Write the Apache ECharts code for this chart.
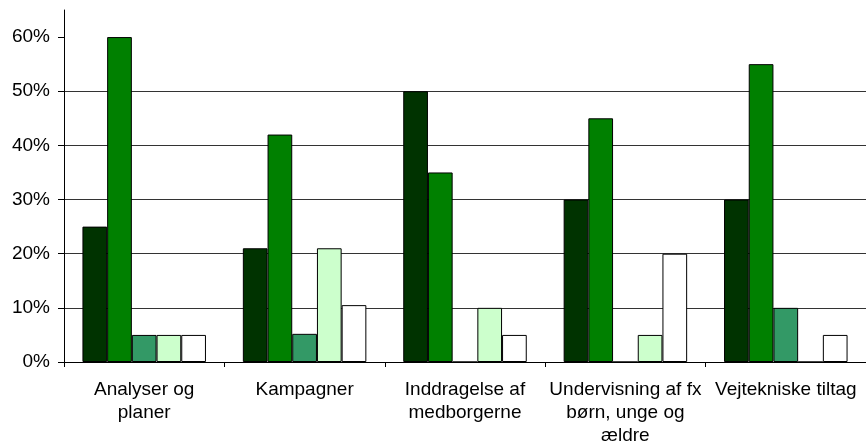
<!DOCTYPE html>
<html>
<head>
<meta charset="utf-8">
<script src="https://cdn.jsdelivr.net/npm/echarts@6/dist/echarts.min.js"></script>
<style>
html,body{margin:0;padding:0;background:#fff;}
#c{width:866px;height:447px;}
</style>
</head>
<body>
<div id="c"></div>
<script>
var categories = ["Analyser og\nplaner", "Kampagner", "Inddragelse af\nmedborgerne", "Undervisning af fx\nbørn, unge og\nældre", "Vejtekniske tiltag"];
var series1 = [25, 21, 50, 30, 30];
var series2 = [60, 42, 35, 45, 55];
var series3 = [5, 5.2, 0, 0, 10];
var series4 = [5, 21, 10, 5, 0];
var series5 = [5, 10.5, 5, 20, 5];
var yTicks = [0, 10, 20, 30, 40, 50, 60];
var colors = ["#003300", "#008000", "#339966", "#CCFFCC", "#FFFFFF"];

var chart = echarts.init(document.getElementById('c'));
var font = "'Liberation Sans', Arial, sans-serif";
function mk(name, data, color) {
  return {
    name: name, type: 'bar', data: data,
    barGap: '0%', barCategoryGap: '23%',
    itemStyle: { color: color, borderColor: '#000', borderWidth: 1 },
    animation: false
  };
}
chart.setOption({
  animation: false,
  grid: { left: 64, right: -3, top: 10, bottom: 84, containLabel: false },
  xAxis: {
    type: 'category', data: categories,
    axisLine: { lineStyle: { color: '#000', width: 1 } },
    axisTick: { show: true, length: 5, lineStyle: { color: '#000' } },
    axisLabel: { color: '#000', fontFamily: font, fontSize: 19, lineHeight: 23, margin: 16, interval: 0 },
    splitLine: { show: false }
  },
  yAxis: {
    type: 'value', min: 0, max: 65, interval: 10,
    axisLine: { show: true, lineStyle: { color: '#000', width: 1 } },
    axisTick: { show: true, length: 6, customValues: yTicks, lineStyle: { color: '#000' } },
    axisLabel: { color: '#000', fontFamily: font, fontSize: 19, margin: 14, customValues: yTicks,
      formatter: function (v) { return v + '%'; } },
    splitLine: { show: true, showMaxLine: false, showMinLine: false, lineStyle: { color: '#333', width: 1 } }
  },
  series: [
    mk('S1', series1, colors[0]),
    mk('S2', series2, colors[1]),
    mk('S3', series3, colors[2]),
    mk('S4', series4, colors[3]),
    mk('S5', series5, colors[4])
  ]
});
</script>
</body>
</html>
